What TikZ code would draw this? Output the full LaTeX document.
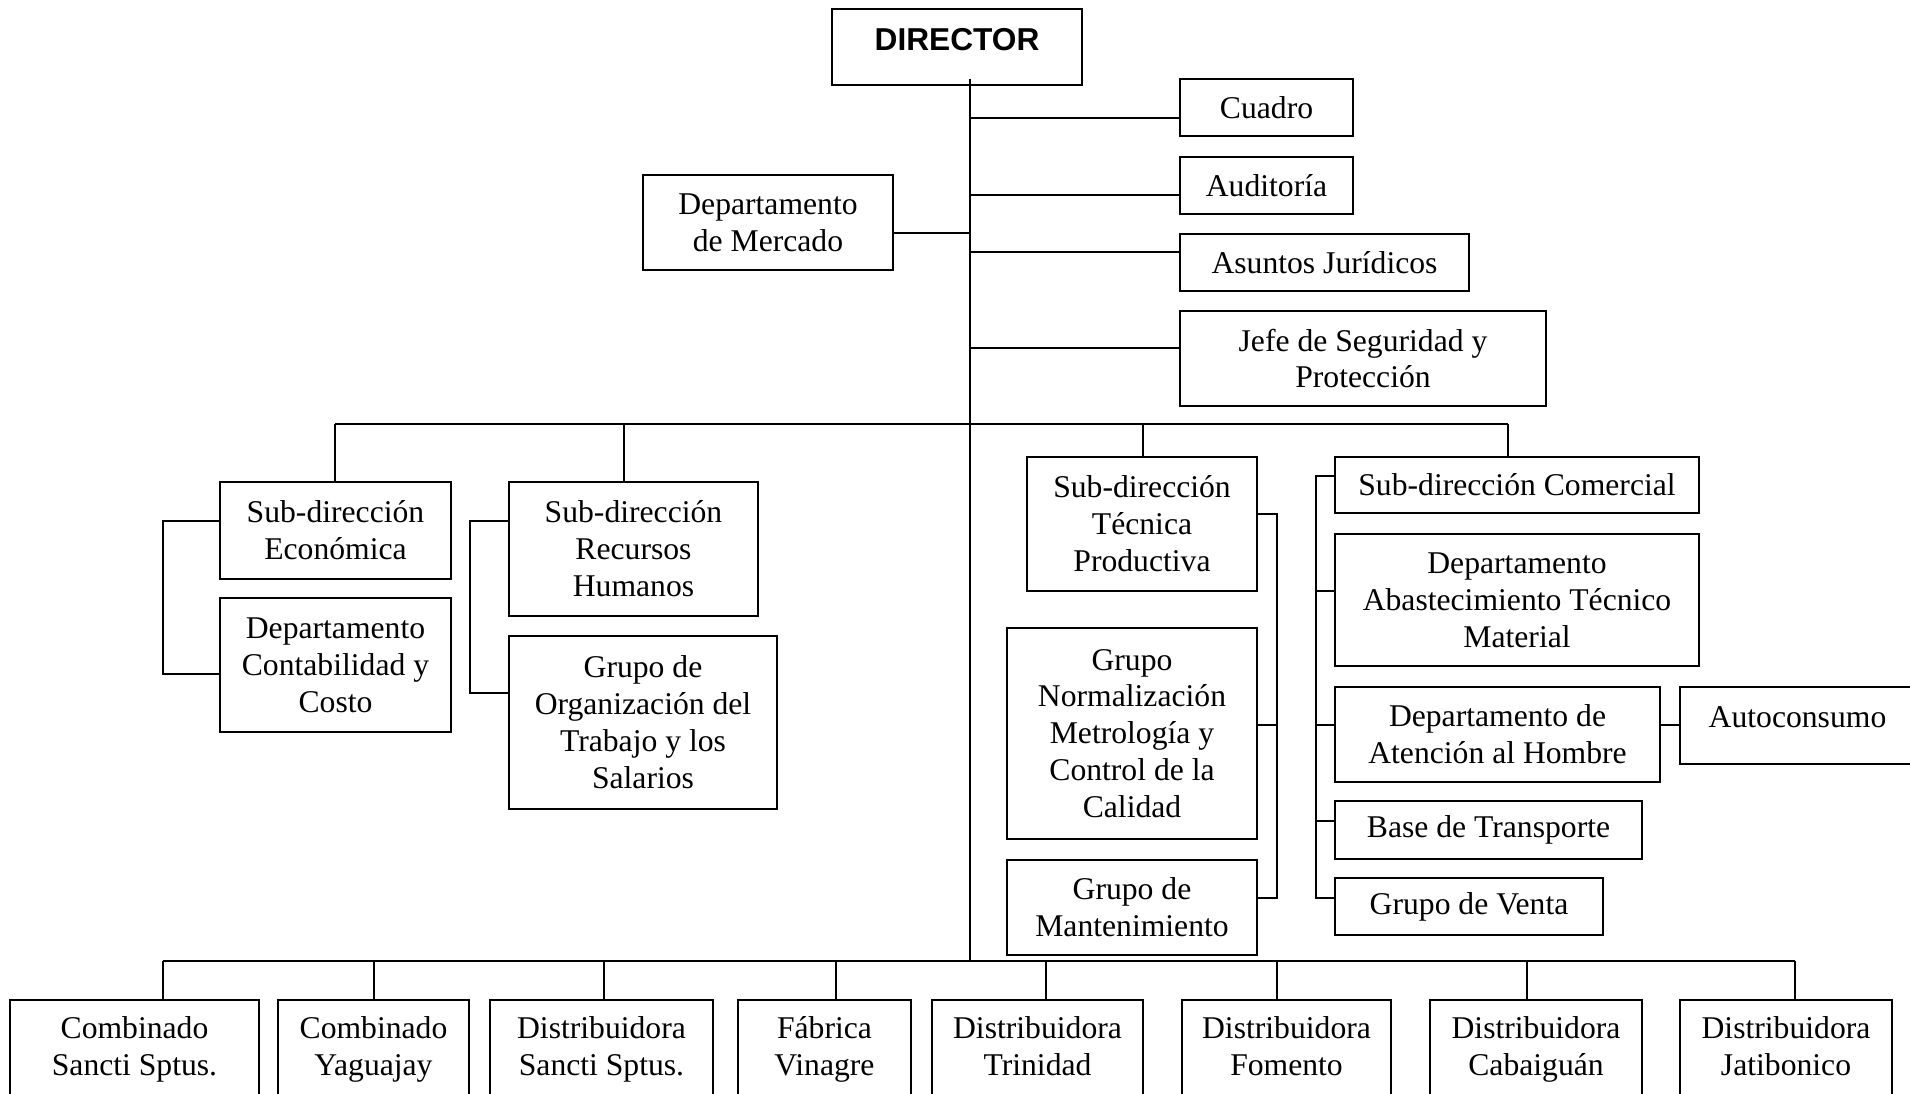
\documentclass[tikz,border=0pt]{standalone}
\usepackage{fontspec}
\setmainfont{Liberation Serif}
\newfontfamily\dirfont{Liberation Sans}
\usepackage{tikz}

\tikzset{
  box/.style={draw, line width=0.6pt, align=center, inner sep=0pt,
    font=\fontsize{9}{10.5}\selectfont},
  link/.style={line width=0.6pt},
  tap/.style={line width=0.4pt}
}

\begin{document}
\begin{tikzpicture}[x=0.01cm,y=-0.01cm]
            \useasboundingbox (0,0) rectangle (1910,1093);
            \node[box, font=\dirfont\bfseries\fontsize{9}{10}\selectfont, minimum width=2.5cm, text height=0.41cm, text depth=0.35cm] (dir) at (957,47) {DIRECTOR};
            \node[box, minimum width=1.73cm, minimum height=0.57cm] (cuadro) at (1266.5,107.5) {Cuadro};
            \node[box, minimum width=1.73cm, minimum height=0.57cm] (audit) at (1266.5,185.5) {Auditoría};
            \node[box, minimum width=2.89cm, minimum height=0.57cm] (asuntos) at (1324.5,262.5) {Asuntos Jurídicos};
            \node[box, minimum width=3.66cm, minimum height=0.95cm] (jefe) at (1363,358.5) {Jefe de Seguridad y\\Protección};
            \node[box, minimum width=2.5cm, minimum height=0.95cm] (mercado) at (768,222.5) {Departamento\\de Mercado};
            \node[box, minimum width=2.31cm, minimum height=0.97cm] (seco) at (335.5,530.5) {Sub-dirección\\Económica};
            \node[box, minimum width=2.31cm, minimum height=1.34cm] (conta) at (335.5,665) {Departamento\\Contabilidad y\\Costo};
            \node[box, minimum width=2.49cm, minimum height=1.34cm] (rrhh) at (633.5,549) {Sub-dirección\\Recursos\\Humanos};
            \node[box, minimum width=2.68cm, minimum height=1.73cm] (orgtrab) at (643,722.5) {Grupo de\\Organización del\\Trabajo y los\\Salarios};
            \node[box, minimum width=2.3cm, minimum height=1.34cm] (tecnica) at (1142,524) {Sub-dirección\\Técnica\\Productiva};
            \node[box, minimum width=2.5cm, minimum height=2.11cm] (normal) at (1132,733.5) {Grupo\\Normalización\\Metrología y\\Control de la\\Calidad};
            \node[box, minimum width=2.5cm, minimum height=0.95cm] (mant) at (1132,907.5) {Grupo de\\Mantenimiento};
            \node[box, minimum width=3.64cm, minimum height=0.56cm] (comercial) at (1517,485) {Sub-dirección Comercial};
            \node[box, minimum width=3.64cm, minimum height=1.32cm] (abast) at (1517,600) {Departamento\\Abastecimiento Técnico\\Material};
            \node[box, minimum width=3.25cm, minimum height=0.95cm] (atencion) at (1497.5,734.5) {Departamento de\\Atención al Hombre};
            \node[box, minimum width=2.35cm, text height=0.40cm, text depth=0.37cm] (autocons) at (1797.5,725.5) {Autoconsumo};
            \node[box, minimum width=3.07cm, minimum height=0.58cm] (transporte) at (1488.5,830) {Base de Transporte};
            \node[box, minimum width=2.68cm, minimum height=0.57cm] (venta) at (1469,906.5) {Grupo de Venta};
             \foreach \n/\cx/\w/\tx/\lbl in {b1/134.5/2.49/163/{\strut Combinado\\\strut Sancti Sptus.}, b2/373.5/1.91/374/{\strut Combinado\\\strut Yaguajay}, b3/601.5/2.23/604/{\strut Distribuidora\\\strut Sancti Sptus.}, b4/824.5/1.73/836/{\strut Fábrica\\\strut Vinagre}, b5/1037.5/2.11/1046/{\strut Distribuidora\\\strut Trinidad}, b6/1286.5/2.09/1277/{\strut Distribuidora\\\strut Fomento}, b7/1536/2.12/1527/{\strut Distribuidora\\\strut Cabaiguán}, b8/1786/2.12/1795/{\strut Distribuidora\\\strut Jatibonico}}
             {
            \node[box, minimum width=\w cm, minimum height=1cm] (\n) at (\cx,1050) {\lbl};
            \draw[tap] (\tx,961) -- (\n.north -| \tx,0);
             }
            \coordinate (ttop) at (970,79);
            \coordinate (tbot) at (970,961);
            \coordinate (ubar) at (970,424);
            \coordinate (bl) at (163,961);
            \coordinate (br) at (1795,961);
            \draw[link] (ttop) -- (tbot);
            \draw[link] (bl) -- (br);
             \foreach \n/\y in {cuadro/118,audit/195,asuntos/252,jefe/348}
            \draw[link] (\n.west |- 0,\y) -- (ttop |- 0,\y);
            \draw[link] (mercado.east |- 0,233) -- (ttop |- 0,233);
            \draw[link] (335,424) -- (1508,424);
             \foreach \n/\x in {seco/335,rrhh/624,tecnica/1143,comercial/1508}
            \draw[link] (\x,424) -- (\n.north -| \x,0);
            \draw[link] (seco.west |- 0,521) -- (163,521) -- (163,674) -- (conta.west |- 0,674);
            \draw[link] (rrhh.west |- 0,521) -- (470,521) -- (470,693) -- (orgtrab.west |- 0,693);
            \draw[link] (tecnica.east |- 0,514) -- (1277,514) -- (1277,898) -- (mant.east |- 0,898);
            \draw[link] (normal.east |- 0,725) -- (1277,725);
            \draw[link] (comercial.west |- 0,476) -- (1316,476) -- (1316,898) -- (venta.west |- 0,898);
             \foreach \n/\y in {abast/591,atencion/725,transporte/821}
            \draw[link] (\n.west |- 0,\y) -- (1316,\y);
            \draw[link] (atencion.east |- 0,725) -- (autocons.west |- 0,725);
        \end{tikzpicture}
\end{document}
